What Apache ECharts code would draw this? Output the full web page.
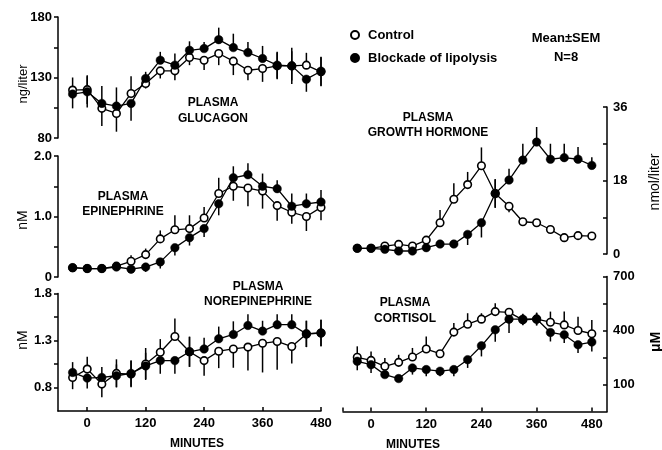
<!DOCTYPE html>
<html><head><meta charset="utf-8">
<script src="https://cdn.jsdelivr.net/npm/echarts@6/dist/echarts.min.js"></script>
<style>html,body{margin:0;padding:0;background:#fff}#c{width:662px;height:450px}</style>
</head><body><div id="c"></div>
<script>
// ---- data ----
const minutes = [-30,0,30,60,90,120,150,180,210,240,270,300,330,360,390,420,450,480];
const xTickValues = [0,120,240,360,480];

const glucagonControl  = [119.6,120,104.5,100.3,116.8,125,135.5,135.5,146.5,144.3,149.8,143.5,136,137.4,139.6,139.6,140.2,134.7];
const glucagonBlockade = [116.3,118.2,108.6,106.4,108.6,129.2,144.3,140.2,152.5,153.9,161.3,154.7,150.6,145.7,140.2,139.6,128.6,135.2];
const glucagonControlSem  = [10.4,11.8,14.6,15.1,14.3,4.1,6.3,7.7,6.3,8.2,9.6,11.5,8.2,11,11,12,10.2,12];
const glucagonBlockadeSem = [11.8,12.9,14.3,15.4,14.3,5.5,6.9,9.6,7.4,5.5,9.9,11.5,8.8,10.4,11,15,10.4,12];

const epiControl  = [0.154,0.14,0.14,0.18,0.26,0.37,0.63,0.78,0.80,0.975,1.38,1.50,1.47,1.42,1.18,1.07,1.00,1.15];
const epiBlockade = [0.154,0.14,0.14,0.165,0.13,0.165,0.25,0.485,0.65,0.80,1.21,1.64,1.69,1.50,1.46,1.17,1.21,1.24];
const epiControlSem  = [0.03,0.03,0.03,0.05,0.1,0.1,0.14,0.24,0.22,0.18,0.26,0.24,0.3,0.29,0.25,0.19,0.24,0.21];
const epiBlockadeSem = [0.03,0.03,0.03,0.05,0.07,0.08,0.11,0.13,0.13,0.14,0.19,0.19,0.19,0.21,0.14,0.21,0.17,0.2];

const neControl  = [0.907,0.996,0.836,0.95,0.943,1.05,1.175,1.343,1.18,1.086,1.186,1.21,1.23,1.27,1.29,1.236,1.37,1.38];
const neBlockade = [0.96,0.90,0.907,0.925,0.95,1.03,1.086,1.086,1.18,1.21,1.318,1.364,1.46,1.40,1.468,1.468,1.37,1.38];
const neControlSem  = [0.125,0.13,0.14,0.15,0.14,0.17,0.14,0.19,0.16,0.16,0.18,0.2,0.25,0.31,0.3,0.18,0.14,0.14];
const neBlockadeSem = [0.11,0.11,0.11,0.12,0.14,0.14,0.14,0.14,0.16,0.12,0.13,0.14,0.12,0.11,0.11,0.11,0.14,0.14];

const ghControl  = [1.4,1.4,1.95,2.36,1.95,3.4,7.65,13.4,17.0,21.6,14.8,11.7,7.9,7.65,6.0,4.0,4.5,4.4];
const ghBlockade = [1.4,1.4,1.14,0.73,0.73,1.55,2.44,2.44,4.8,7.65,14.8,18.1,23.0,27.4,23.2,23.6,23.2,21.7];
const ghControlSem  = [0.4,0.4,0.5,0.5,0.5,0.8,3.1,3.9,3.1,4.5,3.5,1.5,1,1,0.8,0.7,0.7,0.7];
const ghBlockadeSem = [0.4,0.4,0.4,0.4,0.4,0.5,0.6,0.6,2.6,3.6,3.5,2.8,4,3.7,3.8,3.4,3,2];

const cortisolControl  = [251,234,201,223,253,297,271,391,435,463,505,501,459,463,446,431,400,382];
const cortisolBlockade = [229,210,155,133,192,183,174,183,238,315,404,463,463,464,389,376,321,336];
const cortisolControlSem  = [61,50,46,42,50,70,10,50,61,33,46,10,30,35,59,74,77,77];
const cortisolBlockadeSem = [50,46,10,8,37,37,28,37,46,59,66,77,30,35,50,46,46,52];

// tick values per panel
const glucagonTicks = [80,105,130,155,180], glucagonLabels = [80,130,180];
const epiTicks = [0,0.5,1,1.5,2], epiLabels = [0,1,2];
const neTicks = [0.8,1.05,1.3,1.55,1.8], neLabels = [0.8,1.3,1.8];
const ghTicks = [0,9,18,27,36], ghLabels = [0,18,36];
const cortisolTicks = [100,250,400,550,700], cortisolLabels = [100,400,700];

// ---- build ----
const FONT = '"Liberation Sans", Arial, Helvetica, sans-serif';
const grids = [
  {left:58, top:17, width:263, height:121},
  {left:58, top:156, width:263, height:121},
  {left:58, top:293.5, width:263, height:117.5},
  {left:343, top:107, width:264, height:147},
  {left:343, top:276.5, width:264, height:135}
];

function xAx(gi, show, min, max, ticks) {
  return {
    type:'value', gridIndex:gi, min:min, max:max, show:show, position:'bottom',
    splitLine:{show:false},
    axisLine:{show:true, onZero:false, lineStyle:{color:'#000', width:1.5}},
    axisTick:{show:true, inside:true, length:4, customValues:ticks, lineStyle:{color:'#000', width:1.5}},
    axisLabel:{customValues:xTickValues, color:'#000', fontSize:13, fontWeight:'bold', fontFamily:FONT, margin:6}
  };
}
function yAx(gi, pos, min, max, ticks, labels, fmt) {
  return {
    type:'value', gridIndex:gi, position:pos, min:min, max:max,
    splitLine:{show:false},
    axisLine:{show:true, onZero:false, lineStyle:{color:'#000', width:1.5}},
    axisTick:{show:true, inside: pos === 'right', length:4, customValues:ticks, lineStyle:{color:'#000', width:1.5}},
    axisLabel:{customValues:labels, formatter:fmt, color:'#000', fontSize:13, fontWeight:'bold', fontFamily:FONT, margin:6}
  };
}

function barData(vals, sems, other, eps) {
  return minutes.map((m, i) => {
    const v = vals[i], s = sems[i], d = v - other[i];
    if (d > eps) return [m, v, v + s];
    if (d < -eps) return [m, v - s, v];
    return [m, v - s, v + s];
  });
}
function renderBar(params, api) {
  const x = api.value(0);
  const p1 = api.coord([x, api.value(1)]);
  const p2 = api.coord([x, api.value(2)]);
  return {type:'line', shape:{x1:p1[0], y1:p1[1], x2:p2[0], y2:p2[1]}, style:{stroke:'#000', lineWidth:1.5}};
}

const series = [];
function panel(gi, ctrl, block, ctrlSem, blockSem, range) {
  const eps = range * 0.02;
  series.push({
    type:'custom', name:'Control SEM', xAxisIndex:gi, yAxisIndex:gi, z:1,
    renderItem:renderBar, encode:{x:0, y:[1,2]}, data:barData(ctrl, ctrlSem, block, eps), silent:true
  });
  series.push({
    type:'custom', name:'Blockade SEM', xAxisIndex:gi, yAxisIndex:gi, z:1,
    renderItem:renderBar, encode:{x:0, y:[1,2]}, data:barData(block, blockSem, ctrl, eps), silent:true
  });
  series.push({
    type:'line', name:'Control', xAxisIndex:gi, yAxisIndex:gi, z:2,
    data:minutes.map((m, i) => [m, ctrl[i]]),
    symbol:'circle', symbolSize:7.5, showAllSymbol:true,
    lineStyle:{color:'#000', width:1.3},
    itemStyle:{color:'#fff', borderColor:'#000', borderWidth:1.6},
    animation:false
  });
  series.push({
    type:'line', name:'Blockade of lipolysis', xAxisIndex:gi, yAxisIndex:gi, z:3,
    data:minutes.map((m, i) => [m, block[i]]),
    symbol:'circle', symbolSize:8.5, showAllSymbol:true,
    lineStyle:{color:'#000', width:1.3},
    itemStyle:{color:'#000', borderColor:'#000', borderWidth:0.5},
    animation:false
  });
}
panel(0, glucagonControl, glucagonBlockade, glucagonControlSem, glucagonBlockadeSem, 100);
panel(1, epiControl, epiBlockade, epiControlSem, epiBlockadeSem, 2);
panel(2, neControl, neBlockade, neControlSem, neBlockadeSem, 1.25);
panel(3, ghControl, ghBlockade, ghControlSem, ghBlockadeSem, 36);
panel(4, cortisolControl, cortisolBlockade, cortisolControlSem, cortisolBlockadeSem, 750);

function txt(x, y, t, size, weight, rot) {
  return {type:'text', x:x, y:y, rotation:rot || 0, z:10,
    style:{text:t, fontSize:size, fontWeight:weight, fontFamily:FONT, fill:'#000',
      align:'center', verticalAlign:'middle', textAlign:'center', textVerticalAlign:'middle', lineHeight:15.5}};
}

const option = {
  animation:false,
  backgroundColor:'#fff',
  grid:grids,
  xAxis:[
    xAx(0, false, -60, 480, xTickValues),
    xAx(1, false, -60, 480, xTickValues),
    xAx(2, true, -60, 480, xTickValues),
    xAx(3, false, -61, 513, xTickValues),
    xAx(4, true, -61, 513, [-61].concat(xTickValues))
  ],
  yAxis:[
    yAx(0, 'left', 80, 180, glucagonTicks, glucagonLabels, v => String(v)),
    yAx(1, 'left', 0, 2, epiTicks, epiLabels, v => v === 0 ? '0' : v.toFixed(1)),
    yAx(2, 'left', 0.55, 1.8, neTicks, neLabels, v => v.toFixed(1)),
    yAx(3, 'right', 0, 36, ghTicks, ghLabels, v => String(v)),
    yAx(4, 'right', -50, 700, cortisolTicks, cortisolLabels, v => String(v))
  ],
  legend:{
    orient:'vertical', left:350, top:28, itemWidth:8, itemHeight:8, itemGap:9, padding:0,
    data:[{name:'Control', icon:'circle'}, {name:'Blockade of lipolysis', icon:'circle'}],
    textStyle:{fontSize:13, fontWeight:'bold', fontFamily:FONT, color:'#000', lineHeight:14, padding:[0,0,0,4]}
  },
  graphic:[
    txt(213, 110.5, 'PLASMA\nGLUCAGON', 12, 'bold'),
    txt(123, 204, 'PLASMA\nEPINEPHRINE', 12, 'bold'),
    txt(258, 294, 'PLASMA\nNOREPINEPHRINE', 12, 'bold'),
    txt(428, 125, 'PLASMA\nGROWTH HORMONE', 12, 'bold'),
    txt(405, 310.5, 'PLASMA\nCORTISOL', 12, 'bold'),
    txt(566, 38, 'Mean±SEM', 13, 'bold'),
    txt(566, 57, 'N=8', 13, 'bold'),
    txt(197, 444, 'MINUTES', 12, 'bold'),
    txt(413, 444.5, 'MINUTES', 12, 'bold'),
    txt(23, 84, 'ng/liter', 13, 'normal', Math.PI/2),
    txt(23, 220, 'nM', 14, 'normal', Math.PI/2),
    txt(23, 340, 'nM', 14, 'normal', Math.PI/2),
    txt(655, 182, 'nmol/liter', 14, 'normal', Math.PI/2),
    txt(656, 342, 'μM', 14, 'bold', Math.PI/2)
  ],
  series:series
};
const chart = echarts.init(document.getElementById('c'), null, {renderer:'canvas'});
chart.setOption(option);
</script></body></html>
